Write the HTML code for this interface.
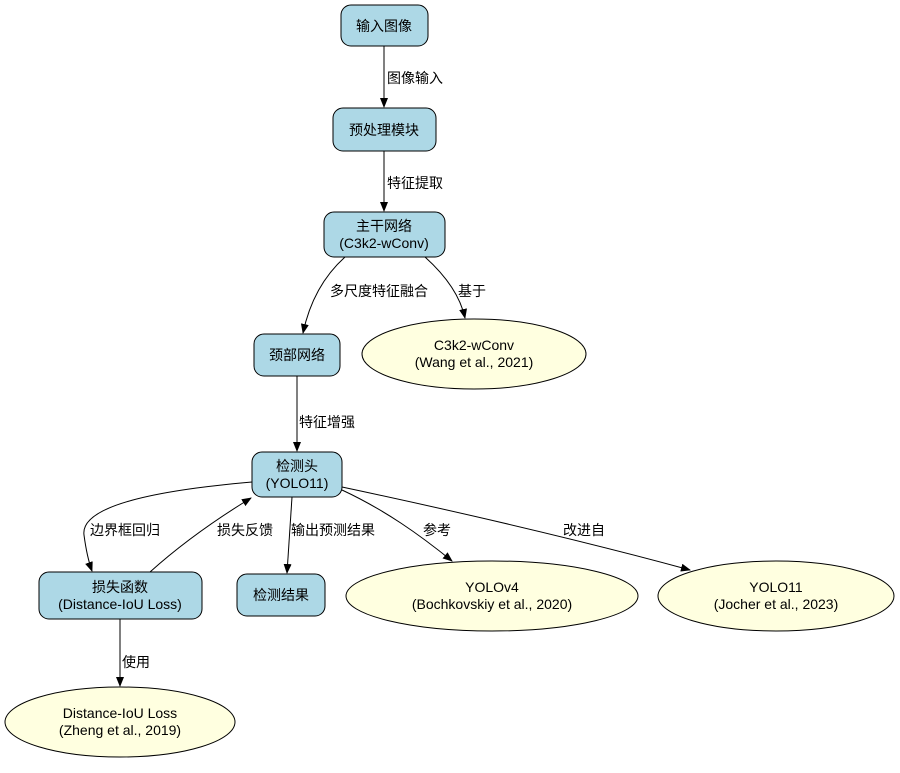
<!DOCTYPE html>
<html><head><meta charset="utf-8"><style>
html,body{margin:0;padding:0;background:#fff}
text{font-family:"Liberation Sans","Noto Sans CJK SC",sans-serif;font-size:14px;fill:#000}
.n{fill:#ADD8E6;stroke:#000;stroke-width:1}
.e{fill:#FFFFE0;stroke:#000;stroke-width:1}
.l{fill:none;stroke:#000;stroke-width:1}
</style></head><body>
<svg width="900" height="768" viewBox="0 0 900 768" xmlns="http://www.w3.org/2000/svg">
<defs><marker id="a" markerWidth="10" markerHeight="8" refX="9" refY="4" orient="auto" markerUnits="userSpaceOnUse"><path d="M0,0 L10,4 L0,8 z" fill="#000"/></marker></defs>
<!-- edges -->
<path class="l" d="M384,46 L384,107" marker-end="url(#a)"/>
<text x="387" y="83">图像输入</text>
<path class="l" d="M384,151 L384,211" marker-end="url(#a)"/>
<text x="387" y="188">特征提取</text>
<path class="l" d="M345,257 C325,275 310,300 303,333" marker-end="url(#a)"/>
<text x="330" y="296">多尺度特征融合</text>
<path class="l" d="M425,257 C445,275 460,295 465,318" marker-end="url(#a)"/>
<text x="458" y="296">基于</text>
<path class="l" d="M297,376 L297,451" marker-end="url(#a)"/>
<text x="299" y="427">特征增强</text>
<path class="l" d="M252,482 C160,490 80,505 84,535 C86,550 88,560 92,571" marker-end="url(#a)"/>
<text x="90" y="535">边界框回归</text>
<path class="l" d="M150,572 C180,545 215,520 251,498" marker-end="url(#a)"/>
<text x="217" y="535">损失反馈</text>
<path class="l" d="M292,497 L287,573" marker-end="url(#a)"/>
<text x="291" y="535">输出预测结果</text>
<path class="l" d="M342,490 C385,510 420,535 452,561" marker-end="url(#a)"/>
<text x="423" y="535">参考</text>
<path class="l" d="M342,487 C450,510 580,540 690,570" marker-end="url(#a)"/>
<text x="563" y="535">改进自</text>
<path class="l" d="M120,619 L120,686" marker-end="url(#a)"/>
<text x="122" y="667">使用</text>
<!-- nodes -->
<rect class="n" x="341" y="5" width="87" height="41" rx="10"/>
<text x="384" y="31" text-anchor="middle">输入图像</text>
<rect class="n" x="333" y="108" width="103" height="43" rx="10"/>
<text x="384" y="135" text-anchor="middle">预处理模块</text>
<rect class="n" x="324" y="212" width="121" height="45" rx="10"/>
<text x="384" y="231" text-anchor="middle">主干网络</text>
<text x="384" y="248" text-anchor="middle">(C3k2-wConv)</text>
<rect class="n" x="254" y="334" width="86" height="42" rx="10"/>
<text x="297" y="360" text-anchor="middle">颈部网络</text>
<ellipse class="e" cx="474" cy="354" rx="112" ry="35"/>
<text x="474" y="350" text-anchor="middle">C3k2-wConv</text>
<text x="474" y="367" text-anchor="middle">(Wang et al., 2021)</text>
<rect class="n" x="252" y="452" width="90" height="45" rx="10"/>
<text x="297" y="471" text-anchor="middle">检测头</text>
<text x="297" y="488" text-anchor="middle">(YOLO11)</text>
<rect class="n" x="39" y="572" width="163" height="47" rx="10"/>
<text x="120" y="592" text-anchor="middle">损失函数</text>
<text x="120" y="609" text-anchor="middle">(Distance-IoU Loss)</text>
<rect class="n" x="237" y="574" width="88" height="42" rx="10"/>
<text x="281" y="600" text-anchor="middle">检测结果</text>
<ellipse class="e" cx="492" cy="596" rx="146" ry="35"/>
<text x="492" y="592" text-anchor="middle">YOLOv4</text>
<text x="492" y="609" text-anchor="middle">(Bochkovskiy et al., 2020)</text>
<ellipse class="e" cx="776" cy="596" rx="118" ry="35"/>
<text x="776" y="592" text-anchor="middle">YOLO11</text>
<text x="776" y="609" text-anchor="middle">(Jocher et al., 2023)</text>
<ellipse class="e" cx="120" cy="722" rx="115" ry="35"/>
<text x="120" y="718" text-anchor="middle">Distance-IoU Loss</text>
<text x="120" y="735" text-anchor="middle">(Zheng et al., 2019)</text>
</svg>
</body></html>
